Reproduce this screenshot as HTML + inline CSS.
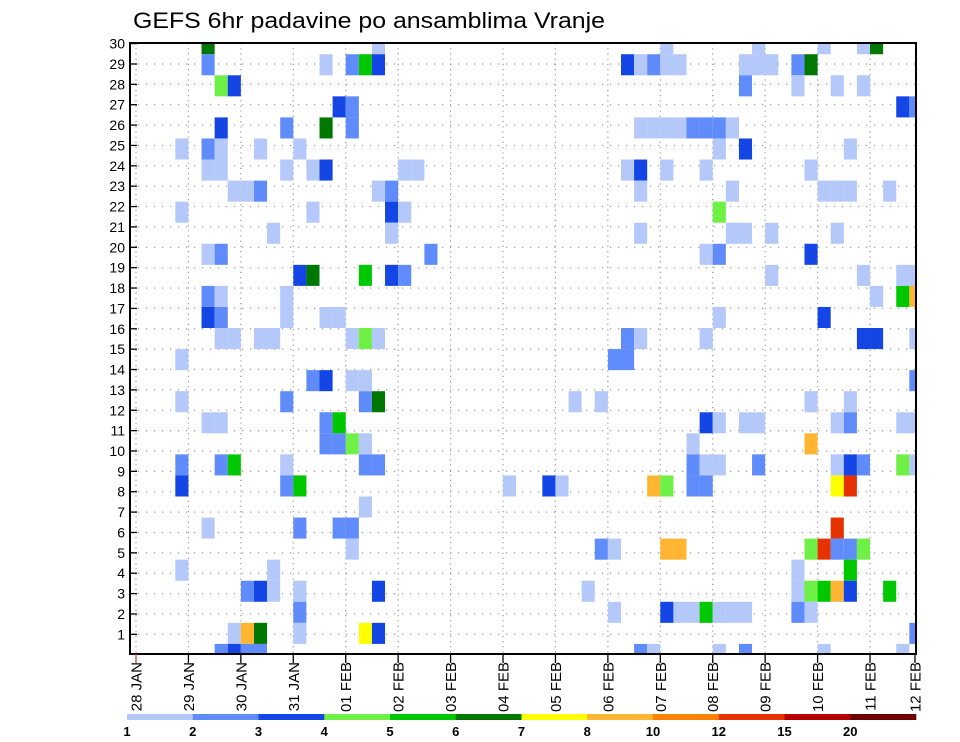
<!DOCTYPE html>
<html>
<head>
<meta charset="utf-8">
<style>
  html, body { margin:0; padding:0; background:#fff; }
  svg { display:block; font-family:"Liberation Sans", "DejaVu Sans", sans-serif; }
</style>
</head>
<body>
<svg id="chart" width="960" height="742" viewBox="0 0 960 742">
  <text x="133" y="28" font-size="22" textLength="472" lengthAdjust="spacingAndGlyphs" fill="#000">GEFS 6hr padavine po ansamblima Vranje</text>
  <defs>
    <clipPath id="plotclip"><rect x="130" y="43" width="786" height="611"/></clipPath>
  </defs>
  <g id="grid"></g>
  <g id="cells" clip-path="url(#plotclip)"></g>
  <rect x="130" y="43" width="786" height="611" fill="none" stroke="#000" stroke-width="2"/>
  <g id="yaxis"></g>
  <g id="xaxis"></g>
  <g id="legend"></g>
</svg>
<script>
// ---- data ----
const dayLabels = ["28 JAN","29 JAN","30 JAN","31 JAN","01 FEB","02 FEB","03 FEB","04 FEB","05 FEB","06 FEB","07 FEB","08 FEB","09 FEB","10 FEB","11 FEB","12 FEB"];
const yTicks = [1,2,3,4,5,6,7,8,9,10,11,12,13,14,15,16,17,18,19,20,21,22,23,24,25,26,27,28,29,30];
const levels = [1,2,3,4,5,6,7,8,10,12,15,20];
const levelColors = ["#b4c8fa","#5f8cfa","#1446e6","#6ef046","#00c800","#007800","#ffff00","#ffb432","#ff8200","#e63200","#b40000","#6e0000"];
const codeValues = {L:1.5, M:2.5, B:3.5, g:4.5, G:5.5, D:6.5, Y:7.5, o:9, R:13};
// rows of ensemble members from top (member 30) to bottom (member 1); entries are "step+category"
const memberRows = [
 "6D 19L 41L 48L 53L 56L 57D",
 "6M 15L 17M 18G 19B 38B 39L 40M 41L 42L 47L 48L 49L 51M 52D",
 "7g 8B 47M 51L 54L 56L",
 "16B 17M 59B 60M",
 "7B 12M 15D 17M 39L 40L 41L 42L 43M 44M 45M 46L",
 "4L 6M 7L 10L 13L 45L 47B 55L",
 "6L 7L 12L 14L 15B 21L 22L 38L 39B 41L 44L 52L",
 "8L 9L 10M 19L 20M 39L 46L 53L 54L 55L 58L",
 "4L 14L 20B 21L 45g",
 "11L 20L 39L 46L 47L 49L 54L",
 "6L 7M 23M 44L 45M 52B",
 "13B 14D 18G 20B 21M 49L 56L 59L 60L",
 "6M 7L 12L 57L 59G 60o",
 "6B 7M 12L 15L 16L 45L 53B",
 "7L 8L 10L 11L 17L 18g 19L 38M 39L 44L 56B 57B 60L",
 "4L 37M 38M",
 "14M 15B 17L 18L 60M",
 "4L 12M 18M 19D 34L 36L 52L 55L",
 "6L 7L 15M 16G 44B 45L 47L 48L 54L 55M 59L 60L",
 "15M 16M 17g 18L 43L 52o",
 "4M 7M 8G 12L 18M 19M 43M 44L 45L 48M 54L 55B 56M 59g 60L",
 "4B 12M 13G 29L 32B 33L 40o 41g 43M 44M 54Y 55R",
 "18L",
 "6L 13M 16M 17M 54R",
 "17L 36M 37L 41o 42o 52g 53R 54M 55M 56g",
 "4L 11L 51L 55G",
 "9M 10B 11L 13L 19B 35L 51L 52g 53G 54o 55B 58G",
 "13M 37L 41B 42L 43L 44G 45L 46L 47L 51M 52L",
 "8L 9o 10D 13L 18Y 19B 60M",
 "7M 8B 9M 10M 39M 40L 45L 47M 53L 59L"
];
const cellStep = [];
const cellRow = [];
const cellValue = [];
memberRows.forEach((row, k) => {
  row.split(" ").forEach(tok => {
    cellStep.push(parseInt(tok, 10));
    cellRow.push(k);
    cellValue.push(codeValues[tok.replace(/[0-9]/g, "")]);
  });
});

// ---- scales ----
const NS = "http://www.w3.org/2000/svg";
const X0 = 136, DAYW = 52.43, PL = 130, PR = 916, PT = 43, PB = 654;
const ROWH = 21.06, YTOP = 43.7, LABSP = 20.37;
function xHour(h) { return X0 + h * DAYW / 24; }
function xStep(c) { return xHour(6 * c - 3); }
function yCell(k) { return YTOP + k * ROWH; }
function yLabel(v) { return PB + 0.7 - v * LABSP; }
function colorFor(v) {
  let idx = 0;
  for (let i = 0; i < levels.length; i++) if (v >= levels[i]) idx = i;
  return levelColors[idx];
}
function mk(tag, attrs, parent) {
  const el = document.createElementNS(NS, tag);
  for (const a in attrs) el.setAttribute(a, attrs[a]);
  parent.appendChild(el);
  return el;
}

// ---- grid ----
const grid = document.getElementById("grid");
yTicks.forEach(v => {
  const y = yLabel(v);
  const ln = mk("line", {x1: PL, x2: PR, y1: y, y2: y, stroke: "#999", "stroke-width": 1.2, "stroke-dasharray": "1.2,6.8"}, grid);
  
  
});
dayLabels.forEach((d, i) => {
  const x = xHour(24 * i);
  if (x < PL || x > PR - 2) return;
  const ln = mk("line", {x1: x, x2: x, y1: PT, y2: PB, stroke: "#999", "stroke-width": 1.2, "stroke-dasharray": "1.2,4"}, grid);
  
  
});

// ---- cells ----
const cells = document.getElementById("cells");
const cw = DAYW / 4;
for (let i = 0; i < cellStep.length; i++) {
  const cx = xStep(cellStep[i]);
  const cy = yCell(cellRow[i]);
  const r = mk("rect", {x: (cx - cw / 2).toFixed(2), y: (cy - ROWH / 2).toFixed(2), width: cw.toFixed(2), height: ROWH.toFixed(2), fill: colorFor(cellValue[i])}, cells);
  
  
}

// ---- y axis ----
const yaxis = document.getElementById("yaxis");
yTicks.forEach(v => {
  const y = yLabel(v);
  const t = mk("line", {x1: PL, x2: PL + 7, y1: y, y2: y, stroke: "#000", "stroke-width": 1.3}, yaxis);
  
  
  const tx = mk("text", {x: 125, y: y + 5, "font-size": 14, "text-anchor": "end", fill: "#000"}, yaxis);
  tx.textContent = v;
  
  
});

// ---- x axis ----
const xaxis = document.getElementById("xaxis");
dayLabels.forEach((d, i) => {
  let x = xHour(24 * i);
  if (x > PR) x = PR - 1;
  const t = mk("line", {x1: x, x2: x, y1: PB, y2: PB + 9, stroke: i === 0 ? "#c44" : "#000", "stroke-width": 1.3}, xaxis);
  
  
  const tx = mk("text", {x: 0, y: 0, "font-size": 15, "text-anchor": "end", fill: "#000", transform: `translate(${(x + 5.5).toFixed(1)},${PB + 8}) rotate(-90)`}, xaxis);
  tx.textContent = d;
  
  
});

// ---- legend ----
const legend = document.getElementById("legend");
const LX0 = 127, LW = (916 - 127) / levelColors.length;
levelColors.forEach((c, i) => {
  const r = mk("rect", {x: (LX0 + i * LW).toFixed(2), y: 714, width: (LW + 0.3).toFixed(2), height: 6, fill: c}, legend);
  
  
});
levels.forEach((v, i) => {
  const tx = mk("text", {x: (LX0 + i * LW).toFixed(2), y: 736, "font-size": 13, "font-weight": "bold", "text-anchor": "middle", fill: "#000"}, legend);
  tx.textContent = v;
  
  
});
</script>
</body>
</html>
